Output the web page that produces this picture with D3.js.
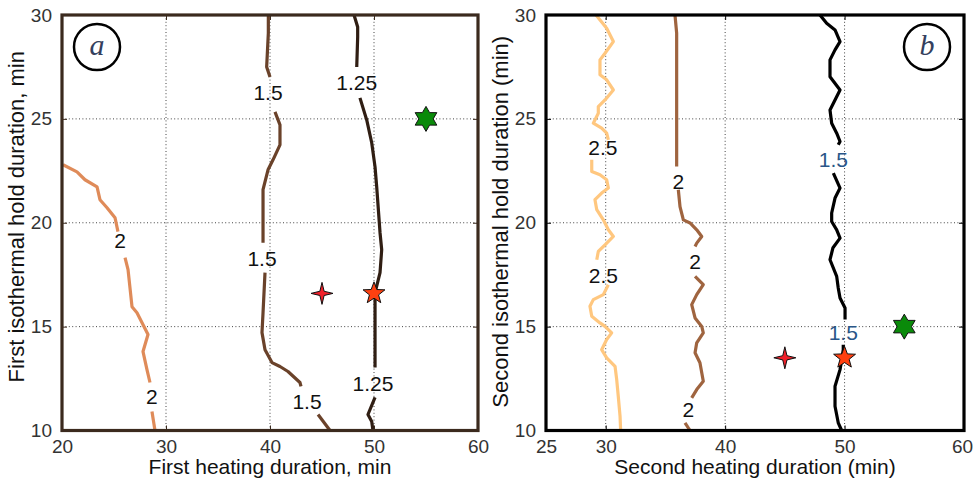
<!DOCTYPE html>
<html>
<head>
<meta charset="utf-8">
<script src="https://cdn.jsdelivr.net/npm/d3@7"></script>
<style>
  body { margin: 0; background: #fff; }
  svg { display: block; font-family: Arial, "Liberation Sans", sans-serif; }
</style>
</head>
<body>
<svg id="chart" width="973" height="482"></svg>
<script>
// ---------- data ----------
// Panel a: first heating duration vs first isothermal hold duration
const xTicksA = [20, 30, 40, 50, 60];
const yTicksA = [10, 15, 20, 25, 30];
const levelsA = [1.25, 1.5, 2];

// each contour is a list of segments, broken where a level label sits
const contourA_2 = [
  [[20.1,22.79],[21.44,22.45],[22.21,22.07],[23.37,21.73],[23.65,21.11],[24.33,20.72],[25.1,20.24],[25.38,19.57]],
  [[26.06,18.32],[26.35,17.74],[26.73,15.96],[27.21,15.67],[28.27,14.62],[27.79,13.8],[28.17,12.93],[28.46,12.31]],
  [[28.65,10.91],[28.94,10.0]]
];
const contourA_15 = [
  [[39.84,30],[39.84,29.13],[39.68,27.5],[40.0,27.02]],
  [[40.48,25.34],[40.96,24.71],[40.96,23.75],[40.29,23.03],[39.81,22.55],[39.33,21.59],[39.33,19.04]],
  [[39.52,17.6],[39.33,15.67],[39.23,14.71],[39.52,13.89],[40.19,13.27],[40.96,13.08],[41.73,12.84],[42.88,12.31],[42.98,12.12]],
  [[44.62,10.77],[45.77,10.0]]
];
const contourA_125 = [
  [[48.08,30],[48.43,29.42],[48.43,28.94],[48.34,27.5]],
  [[48.65,26.01],[49.3,24.95],[49.78,23.85],[50.1,22.69],[50.26,21.73],[50.58,19.52],[50.74,18.7],[50.58,17.6],[50.1,16.63],[50.1,14.86],[50.1,13.03]],
  [[50.1,11.59],[49.42,10.77],[49.78,10.43],[49.9,10.0]]
];
const labelsA = [
  [25.58, 19.13, "2"], [28.65, 11.63, "2"],
  [39.81, 26.25, "1.5"], [39.23, 18.27, "1.5"], [43.56, 11.39, "1.5"],
  [48.34, 26.73, "1.25"], [49.9, 12.26, "1.25"]
];
const markersA = [
  { x: 55, y: 25, kind: "hexagram" },
  { x: 45, y: 16.6, kind: "four" },
  { x: 50, y: 16.6, kind: "five" }
];

// Panel b: second heating duration vs second isothermal hold duration
const xTicksB = [25, 30, 40, 50, 60];
const yTicksB = [10, 15, 20, 25, 30];
const levelsB = [1.5, 2, 2.5];

const contourB_25 = [
  [[29.19,30],[30.08,29.36],[30.64,28.72],[29.94,28.16],[29.52,27.84],[29.52,27.12],[30.08,26.88],[30.64,26.39],[29.94,25.91],[29.38,25.59],[29.38,25.27],[28.96,24.79],[29.66,24.55],[30.08,24.31],[30.22,23.99]],
  [[28.83,23.03],[28.83,22.47],[29.52,22.31],[30.08,22.07],[30.22,21.67],[29.66,21.43],[29.1,21.11],[29.25,20.63],[29.8,20.14],[30.22,19.66],[30.64,19.34],[29.94,18.94],[29.38,18.62],[29.25,18.22]],
  [[30.22,17.02],[29.8,16.54],[28.96,16.3],[28.68,15.98],[28.83,15.5],[29.52,15.18],[29.94,15.01],[30.5,14.7],[30.08,14.38],[29.66,13.89],[30.08,13.5],[30.78,13.09],[30.92,12.45],[31.05,11.65],[31.2,10.69],[31.25,10.0]]
];
const contourB_2 = [
  [[35.8,30],[35.94,29.13],[35.94,22.71]],
  [[36.08,21.59],[36.22,20.78],[36.5,20.14],[37.06,19.99],[37.62,19.66],[38.04,19.34],[37.62,19.02],[37.48,18.86]],
  [[37.48,17.42],[38.17,17.02],[37.62,16.54],[37.2,16.06],[37.48,15.42],[38.04,15.01],[38.17,14.7],[37.62,14.22],[37.48,13.74],[37.89,13.26],[38.17,12.37],[37.62,11.97],[37.2,11.57]],
  [[36.64,10.37],[37.06,10.0]]
];
const contourB_15 = [
  [[47.94,30],[48.5,29.6],[49.2,29.28],[49.62,28.72],[49.2,28.32],[48.78,27.84],[48.78,27.03],[49.62,26.39],[49.2,25.91],[48.78,25.43],[48.92,24.79],[49.34,24.31],[49.62,23.91],[49.47,23.75]],
  [[49.06,22.39],[49.62,21.67],[49.2,21.19],[48.92,20.47],[48.92,20.06],[49.34,19.66],[49.62,19.26],[49.03,18.8],[48.78,18.22],[49.34,17.42],[49.47,16.86],[49.62,16.38],[50.04,15.9],[50.04,15.34]],
  [[49.89,14.13],[49.89,13.89],[49.62,12.93],[49.2,12.13],[49.2,11.17],[49.47,10.37],[49.76,10.0]]
];
const labelsB = [
  [29.77, 23.61, "2.5"], [29.8, 17.45, "2.5"],
  [36.08, 21.99, "2"], [37.48, 18.14, "2"], [36.91, 11.01, "2"],
  [49.06, 23.03, "1.5"], [49.89, 14.7, "1.5"]
];
const markersB = [
  { x: 55, y: 15, kind: "hexagram" },
  { x: 45, y: 13.5, kind: "four" },
  { x: 50, y: 13.5, kind: "five" }
];

// ---------- helpers ----------
// MATLAB-like copper colormap
function copper(t) {
  t = Math.max(0, Math.min(1, t));
  return d3.rgb(255 * Math.min(1, 1.25 * t), 255 * 0.7812 * t, 255 * 0.4975 * t).formatHex();
}

// star polygon with n points
function starPath(n, rOut, rIn) {
  const pts = d3.range(2 * n).map(i => [i * Math.PI / n, i % 2 ? rIn : rOut]);
  return d3.lineRadial().angle(d => d[0]).radius(d => d[1]).curve(d3.curveLinearClosed)(pts);
}
const markerStyle = {
  hexagram: { path: starPath(6, 12.5, 7.2), fill: "#0a8a0a" },
  four: { path: starPath(4, 11, 3), fill: "#f0202a" },
  five: { path: starPath(5, 11.5, 4.8), fill: "#ff4010" }
};

const svg = d3.select("#chart");

const panels = [
  {
    box: { l: 62, t: 15, r: 478, b: 430.5 },
    xDomain: [20, 60], yDomain: [10, 30],
    xTicks: xTicksA, yTicks: yTicksA,
    contours: [[2, contourA_2], [1.5, contourA_15], [1.25, contourA_125]],
    colorOf: v => copper(0.733 * v - 0.767),
    labels: labelsA, markers: markersA,
    frame: "#3b2a1e",
    xTitle: "First heating duration, min",
    yTitle: "First isothermal hold duration, min",
    yTitleShift: -6,
    tag: "a", tagPos: [97, 47]
  },
  {
    box: { l: 546, t: 15, r: 964, b: 430.5 },
    xDomain: [25, 60], yDomain: [10, 30],
    xTicks: xTicksB, yTicks: yTicksB,
    contours: [[2.5, contourB_25], [2, contourB_2], [1.5, contourB_15]],
    colorOf: v => copper(v - 1.5),
    labels: labelsB, markers: markersB,
    frame: "#000",
    xTitle: "Second heating duration (min)",
    yTitle: "Second isothermal hold duration (min)",
    yTitleShift: -1,
    tag: "b", tagPos: [927, 47]
  }
];

panels.forEach(p => {
  const { l, t, r, b } = p.box;
  const x = d3.scaleLinear().domain(p.xDomain).range([l, r]);
  const y = d3.scaleLinear().domain(p.yDomain).range([b, t]);
  const g = svg.append("g");

  // dotted grid at inner ticks
  g.append("g").selectAll("line")
    .data(p.xTicks.slice(1, -1)).join("line")
    .attr("x1", d => x(d)).attr("x2", d => x(d))
    .attr("y1", t).attr("y2", b)
    .attr("stroke", "#444").attr("stroke-width", 1)
    .attr("stroke-dasharray", "1,2.4");
  g.append("g").selectAll("line")
    .data(p.yTicks.slice(1, -1)).join("line")
    .attr("x1", l).attr("x2", r)
    .attr("y1", d => y(d)).attr("y2", d => y(d))
    .attr("stroke", "#444").attr("stroke-width", 1)
    .attr("stroke-dasharray", "1,2.4");

  // contour lines
  const line = d3.line().x(d => x(d[0])).y(d => y(d[1]));
  p.contours.forEach(([lev, segs]) => {
    g.append("g").selectAll("path")
      .data(segs).join("path")
      .attr("d", line)
      .attr("fill", "none")
      .attr("stroke", p.colorOf(lev))
      .attr("stroke-width", 3.2)
      .attr("stroke-linejoin", "round")
      .attr("stroke-linecap", "butt");
  });

  // contour level labels
  g.append("g").selectAll("text")
    .data(p.labels).join("text")
    .attr("x", d => x(d[0])).attr("y", d => y(d[1]))
    .attr("text-anchor", "middle")
    .attr("dominant-baseline", "central")
    .attr("font-size", 21)
    .attr("fill", d => (p.tag === "b" && d[2] === "1.5") ? "#2a5688" : "#111")
    .text(d => d[2]);

  // markers
  g.append("g").selectAll("path")
    .data(p.markers).join("path")
    .attr("transform", d => `translate(${x(d.x)},${y(d.y)})`)
    .attr("d", d => markerStyle[d.kind].path)
    .attr("fill", d => markerStyle[d.kind].fill)
    .attr("stroke", "#111").attr("stroke-width", 1)
    .attr("stroke-linejoin", "miter");

  // axes with inward ticks on all four sides
  const tickLen = 5;
  const bottom = d3.axisBottom(x).tickValues(p.xTicks).tickSize(-tickLen).tickPadding(9);
  const top = d3.axisTop(x).tickValues(p.xTicks).tickSize(-tickLen).tickFormat("");
  const left = d3.axisLeft(y).tickValues(p.yTicks).tickSize(-tickLen).tickPadding(10);
  const right = d3.axisRight(y).tickValues(p.yTicks).tickSize(-tickLen).tickFormat("");

  const styleAxis = sel => {
    sel.select(".domain").remove();
    sel.selectAll(".tick line").attr("stroke", p.frame).attr("stroke-width", 1);
    sel.selectAll(".tick text").attr("fill", "#333").attr("font-size", 19)
      .attr("font-family", null);
  };
  const gx = g.append("g").attr("transform", `translate(0,${b})`).call(bottom).call(styleAxis);
  // keep the right-most tick label inside the page
  gx.selectAll(".tick text").filter(d => x(d) + 11 > 972).attr("dx", -2);
  g.append("g").attr("transform", `translate(0,${t})`).call(top).call(styleAxis);
  g.append("g").attr("transform", `translate(${l},0)`).call(left).call(styleAxis);
  g.append("g").attr("transform", `translate(${r},0)`).call(right).call(styleAxis);

  // frame
  g.append("rect")
    .attr("x", l).attr("y", t).attr("width", r - l).attr("height", b - t)
    .attr("fill", "none").attr("stroke", p.frame).attr("stroke-width", 3.2);

  // axis titles
  g.append("text")
    .attr("x", (l + r) / 2).attr("y", 474)
    .attr("text-anchor", "middle").attr("font-size", 21).attr("fill", "#111")
    .text(p.xTitle);
  g.append("text")
    .attr("transform", `translate(${l - 38},${(t + b) / 2 + p.yTitleShift}) rotate(-90)`)
    .attr("text-anchor", "middle").attr("font-size", 22).attr("fill", "#111")
    .text(p.yTitle);

  // panel tag
  g.append("circle")
    .attr("cx", p.tagPos[0]).attr("cy", p.tagPos[1]).attr("r", 23)
    .attr("fill", "#fff").attr("stroke", "#000").attr("stroke-width", 2.5);
  g.append("text")
    .attr("x", p.tagPos[0]).attr("y", p.tagPos[1] + 8)
    .attr("text-anchor", "middle")
    .style("font-family", "'Liberation Serif', 'DejaVu Serif', serif")
    .style("font-style", "italic").attr("font-size", 30)
    .attr("fill", "#34405e")
    .text(p.tag);
});
</script>
</body>
</html>
